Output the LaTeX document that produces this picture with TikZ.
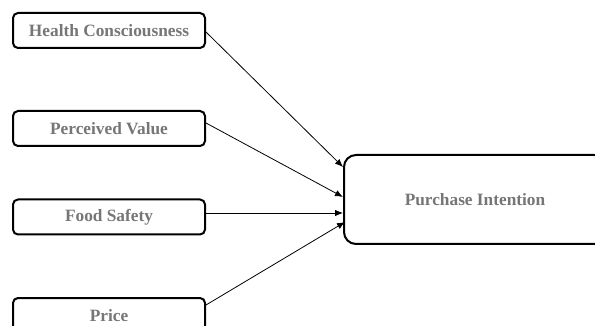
\documentclass[tikz,border=0pt]{standalone}
\usepackage{fontspec}
\setmainfont{Liberation Serif}
\usetikzlibrary{arrows.meta}
\definecolor{labelGray}{RGB}{118,118,118}

\begin{document}
\begin{tikzpicture}[x=1pt,y=-1pt,
  factorbox/.style={draw, line width=2pt, rounded corners=5pt, inner sep=0pt,
    minimum width=192pt, minimum height=35pt, text=labelGray,
    font=\fontsize{17.3}{19}\selectfont\bfseries},
  outcomebox/.style={factorbox, rounded corners=12pt,
    minimum width=262pt, minimum height=89pt},
  link/.style={-{Latex[length=8pt,width=6.5pt]}, line width=0.8pt}]
\useasboundingbox (0,0) rectangle (595,326);
\clip (0,0) rectangle (595,326);

% Factor boxes
\node[factorbox] (hc) at (109,30.5) {Health Consciousness};
\node[factorbox] (pv) at (109,128.5) {Perceived Value};
\node[factorbox] (fs) at (109,217) {Food Safety};
\node[factorbox] (pr) at (109,315.5) {Price};

% Outcome box
\node[outcomebox] (pi) at (475,199.5) {Purchase Intention};

% Links
\draw[link] ([yshift=-1.5pt]hc.east) -- ([yshift=32.5pt]pi.west);
\draw[link] ([yshift=5.5pt]pv.east) -- ([yshift=2.5pt]pi.west);
\draw[link] ([yshift=4pt]fs.east) -- ([yshift=-13.5pt]pi.west);
\draw[link] ([yshift=10.5pt]pr.east) -- ([xshift=2pt,yshift=-22.5pt]pi.west);
\end{tikzpicture}
\end{document}
